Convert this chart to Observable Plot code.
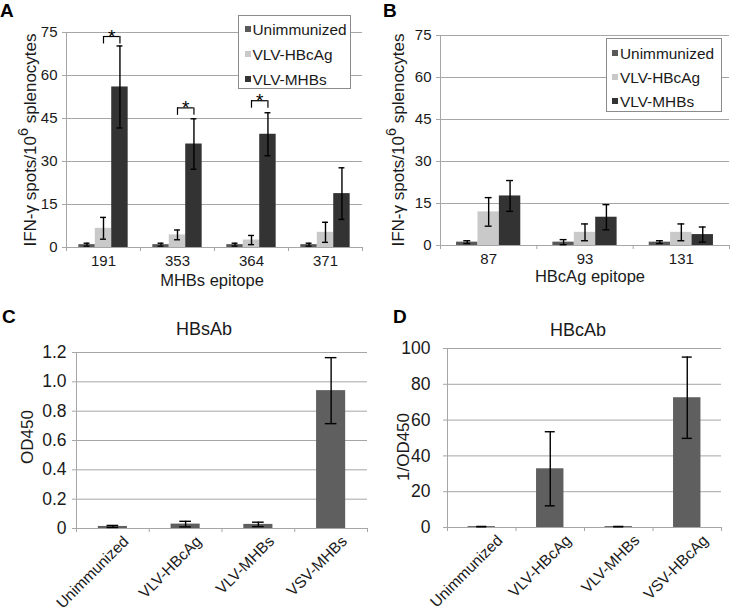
<!DOCTYPE html>
<html>
<head>
<meta charset="utf-8">
<script src="https://cdn.jsdelivr.net/npm/d3@7"></script>
<script src="https://cdn.jsdelivr.net/npm/@observablehq/plot@0.6"></script>
<style>
  body { margin: 0; background: #fff; }
  #fig { position: relative; width: 731px; height: 612px; overflow: hidden; background: #fff; font-family: "Liberation Sans", Arial, sans-serif; }
  .panel { position: absolute; }
  .panel svg { display: block; overflow: visible; }
  .panel g[aria-label^="y-axis"] line, .panel g[aria-label^="y-axis"] path,
  .panel g[aria-label^="x-axis"] line, .panel g[aria-label^="x-axis"] path { stroke: #a6a6a6; }
  .small g[aria-label^="x-axis"] text, .small g[aria-label^="y-axis"] text { font-size: 15px; }
  .big g[aria-label^="y-axis"] text { font-size: 17.5px; }
  #overlay { position: absolute; left: 0; top: 0; pointer-events: none; }
</style>
</head>
<body>
<div id="fig"></div>
<script>
// ---------- data ----------
const seriesNames = ["Unimmunized", "VLV-HBcAg", "VLV-MHBs"];
const seriesColors = ["#595959", "#c9c9c9", "#333333"];

// Panel A: MHBs epitopes
const epitopesA = ["191", "353", "364", "371"];
const unimmunizedA = [1.0, 1.0, 1.0, 1.0];
const unimmunizedErrA = [0.5, 0.5, 0.5, 0.5];
const vlvHBcAgA = [6.7, 4.4, 2.6, 5.3];
const vlvHBcAgErrA = [3.8, 1.7, 1.6, 3.5];
const vlvMHBsA = [56.0, 36.1, 39.5, 18.8];
const vlvMHBsErrA = [14.3, 8.8, 7.5, 9.0];
const bracketTopA = [73.6, 48.7, 51.2, null];
const ticksA = [0, 15, 30, 45, 60, 75];

// Panel B: HBcAg epitopes
const epitopesB = ["87", "93", "131"];
const unimmunizedB = [1.2, 1.2, 1.2];
const unimmunizedErrB = [0.5, 0.9, 0.5];
const vlvHBcAgB = [12.0, 4.7, 4.7];
const vlvHBcAgErrB = [5.1, 3.0, 3.0];
const vlvMHBsB = [17.7, 10.1, 3.9];
const vlvMHBsErrB = [5.5, 4.5, 2.7];
const ticksB = [0, 15, 30, 45, 60, 75];

// Panel C: HBsAb
const groupsC = ["Unimmunized", "VLV-HBcAg", "VLV-MHBs", "VSV-MHBs"];
const valuesC = [0.014, 0.03, 0.028, 0.94];
const errorsC = [0.007, 0.019, 0.015, 0.225];
const ticksC = [0, 0.2, 0.4, 0.6, 0.8, 1.0, 1.2];

// Panel D: HBcAb
const groupsD = ["Unimmunized", "VLV-HBcAg", "VLV-MHBs", "VSV-HBcAg"];
const valuesD = [0.5, 32.8, 0.5, 72.5];
const errorsD = [0.1, 20.7, 0.1, 22.7];
const ticksD = [0, 20, 40, 60, 80, 100];

// ---------- helpers ----------
const gray = "#a6a6a6";
const font = "'Liberation Sans', Arial, sans-serif";

function groupedRows(cats, vals, errs) {
  const rows = [];
  cats.forEach((c, ci) => vals.forEach((v, si) => rows.push({cat: c, ci, si, series: seriesNames[si], value: v[ci], err: errs[si][ci]})));
  return rows;
}
function singleRows(cats, vals, errs) {
  return cats.map((c, ci) => ({cat: c, ci, si: 0, series: c, value: vals[ci], err: errs[ci]}));
}

function barPanel(o) {
  const slots = o.nSeries + 1.5; // 150% gap width
  const x1 = d => d.ci + (0.75 + d.si) / slots;
  const x2 = d => d.ci + (1.75 + d.si) / slots;
  const cx = d => d.ci + (1.25 + d.si) / slots;
  const nCat = o.cats.length;
  const marks = [
    Plot.ruleY(o.yTicks.filter(t => t > 0), {stroke: gray, strokeWidth: 1}),
    Plot.rect(o.rows, {x1, x2, y1: 0, y2: "value", fill: o.single ? o.fill : "series"}),
    Plot.ruleY([0], {stroke: gray, strokeWidth: 1}),
    Plot.ruleX([0], {stroke: gray, strokeWidth: 1}),
    Plot.ruleX(d3.range(nCat + 1), {y1: 0, y2: 0, insetBottom: -4, stroke: gray}),
    Plot.ruleX(o.rows, {x: cx, y1: d => d.value - d.err, y2: d => d.value + d.err, stroke: "#000", strokeWidth: 1.4}),
    Plot.ruleY(o.rows, {x1: d => cx(d) - o.capHalf, x2: d => cx(d) + o.capHalf, y: d => d.value + d.err, stroke: "#000", strokeWidth: 1.4}),
    Plot.ruleY(o.rows, {x1: d => cx(d) - o.capHalf, x2: d => cx(d) + o.capHalf, y: d => Math.max(0, d.value - d.err), stroke: "#000", strokeWidth: 1.4}),
    ...(o.rotate ? [Plot.text(o.rows, {x: cx, y: 0, text: "cat", rotate: o.rotate, textAnchor: "end", lineAnchor: "top",
                                       dx: o.labelDx, dy: o.labelDy, fontSize: o.labelSize, fill: "#1a1a1a"})] : []),
    ...(o.extra ? o.extra({cx, slots}) : [])
  ];
  return Plot.plot({
    width: o.width, height: o.height,
    marginLeft: o.ml, marginRight: o.mr, marginTop: o.mt, marginBottom: o.mb,
    style: {fontFamily: font, fontSize: o.fontSize, color: "#1a1a1a", background: "transparent", overflow: "visible"},
    x: o.rotate
      ? {domain: [0, nCat], axis: null}
      : {domain: [0, nCat], ticks: d3.range(nCat).map(i => i + 0.5), tickFormat: t => o.cats[Math.floor(t)],
         tickSize: 0, tickPadding: o.xPad, label: null},
    y: {domain: o.yDomain, ticks: o.yTicks, tickFormat: o.yFormat || (d => String(d)), tickSize: 4, tickPadding: o.yPad, label: null},
    color: {domain: seriesNames, range: seriesColors},
    marks
  });
}

function place(svg, left, top, cls) {
  const div = document.createElement("div");
  div.className = "panel " + cls;
  div.style.left = left + "px";
  div.style.top = top + "px";
  div.appendChild(svg);
  document.getElementById("fig").appendChild(div);
}

// ---------- Panel A ----------
const rowsA = groupedRows(epitopesA, [unimmunizedA, vlvHBcAgA, vlvMHBsA], [unimmunizedErrA, vlvHBcAgErrA, vlvMHBsErrA]);
const bracketRowsA = epitopesA.map((c, ci) => ({cat: c, ci, top: bracketTopA[ci]})).filter(d => d.top != null);
const brackets = ({slots}) => {
  const cHB = d => d.ci + (1.25 + 1) / slots;
  const cMH = d => d.ci + (1.25 + 2) / slots;
  const leg = 2.6;
  return [
    Plot.ruleY(bracketRowsA, {x1: cHB, x2: cMH, y: "top", stroke: "#000", strokeWidth: 1.2}),
    Plot.ruleX(bracketRowsA, {x: cHB, y1: d => d.top - leg, y2: "top", stroke: "#000", strokeWidth: 1.2}),
    Plot.ruleX(bracketRowsA, {x: cMH, y1: d => d.top - leg, y2: "top", stroke: "#000", strokeWidth: 1.2}),
    Plot.text(bracketRowsA, {x: d => (cHB(d) + cMH(d)) / 2, y: "top", text: () => "*", lineAnchor: "bottom", dy: 6, fontSize: 19, fill: "#000"})
  ];
};
place(barPanel({
  rows: rowsA, cats: epitopesA, nSeries: 3, width: 370, height: 300, ml: 66, mr: 8, mt: 32, mb: 53,
  fontSize: "15px", yDomain: [0, 75], yTicks: ticksA, yPad: 5, xPad: 8, capHalf: 0.04, extra: brackets
}), 0, 0, "small");

// ---------- Panel B ----------
const rowsB = groupedRows(epitopesB, [unimmunizedB, vlvHBcAgB, vlvMHBsB], [unimmunizedErrB, vlvHBcAgErrB, vlvMHBsErrB]);
place(barPanel({
  rows: rowsB, cats: epitopesB, nSeries: 3, width: 366, height: 300, ml: 75, mr: 2, mt: 35, mb: 55,
  fontSize: "15px", yDomain: [0, 75], yTicks: ticksB, yPad: 5, xPad: 8, capHalf: 0.036
}), 365, 0, "small");

// ---------- Panel C ----------
place(barPanel({
  rows: singleRows(groupsC, valuesC, errorsC), cats: groupsC, nSeries: 1, single: true, fill: "#5f5f5f",
  width: 370, height: 312, ml: 76, mr: 3, mt: 52, mb: 84,
  fontSize: "16px", yDomain: [0, 1.2], yTicks: ticksC, yFormat: d => d === 0 ? "0" : d.toFixed(1),
  yPad: 6, rotate: -45, labelDx: 9, labelDy: 6, labelSize: 15.5, capHalf: 0.08
}), 0, 300, "big");

// ---------- Panel D ----------
place(barPanel({
  rows: singleRows(groupsD, valuesD, errorsD), cats: groupsD, nSeries: 1, single: true, fill: "#5f5f5f",
  width: 366, height: 312, ml: 82, mr: 10, mt: 48, mb: 85,
  fontSize: "16px", yDomain: [0, 100], yTicks: ticksD, yPad: 13,
  rotate: -45, labelDx: 14, labelDy: 6, labelSize: 15.5, capHalf: 0.073
}), 365, 300, "big");

// ---------- overlay: panel letters, titles, axis titles, legends ----------
const ov = d3.select("#fig").append("svg").attr("id", "overlay").attr("width", 731).attr("height", 612)
  .style("font-family", font).attr("fill", "#1a1a1a");

const letters = [["A", 0, 17], ["B", 383, 17], ["C", 2, 323], ["D", 393, 323]];
letters.forEach(([t, x, y]) => ov.append("text").attr("x", x).attr("y", y).attr("font-size", 19).attr("font-weight", "bold").attr("fill", "#000").text(t));

function yTitle(x, y, size, parts) {
  const t = ov.append("text").attr("transform", `translate(${x},${y}) rotate(-90)`).attr("text-anchor", "middle").attr("font-size", size);
  parts.forEach(([s, sup]) => {
    const ts = t.append("tspan").text(s);
    if (sup) ts.attr("baseline-shift", "super").attr("font-size", size * 0.85);
  });
}
const ifnTitle = [["IFN-γ spots/10"], ["6", true], [" splenocytes"]];
yTitle(36, 140, 17, ifnTitle);
yTitle(404, 140, 17, ifnTitle);
yTitle(33, 437, 17, [["OD450"]]);
yTitle(409, 447, 17, [["1/OD450"]]);

function hText(x, y, size, s) {
  ov.append("text").attr("x", x).attr("y", y).attr("text-anchor", "middle").attr("font-size", size).text(s);
}
hText(212, 286, 16.5, "MHBs epitope");
hText(590, 282, 16.5, "HBcAg epitope");
hText(204, 335, 18, "HBsAb");
hText(578, 336, 18, "HBcAb");

function legend(x, y, w, h, baselines, markerX, textX) {
  ov.append("rect").attr("x", x + 0.5).attr("y", y + 0.5).attr("width", w).attr("height", h)
    .attr("fill", "#fff").attr("stroke", "#8c8c8c");
  seriesNames.forEach((s, i) => {
    ov.append("rect").attr("x", markerX).attr("y", baselines[i] - 9).attr("width", 6).attr("height", 6).attr("fill", seriesColors[i]);
    ov.append("text").attr("x", textX).attr("y", baselines[i]).attr("font-size", 15.4).text(s);
  });
}
legend(238, 15, 112, 73, [35, 60, 85], 245, 252.5);
legend(606, 38, 115, 73, [59, 83, 107], 612, 620);
</script>
</body>
</html>
